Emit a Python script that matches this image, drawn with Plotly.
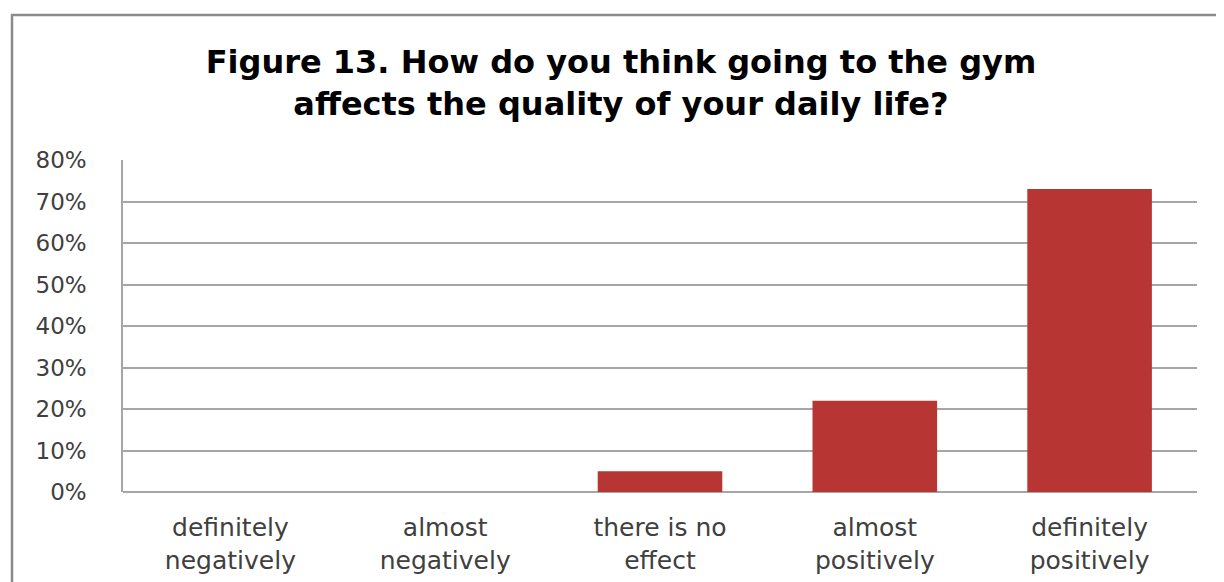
import plotly.graph_objects as go

categories = ["definitely<br>negatively", "almost<br>negatively", "there is no<br>effect",
              "almost<br>positively", "definitely<br>positively"]
values = [0.0, 0.0, 0.05, 0.22, 0.73]
tick_vals = [0, 0.1, 0.2, 0.3, 0.4, 0.5, 0.6, 0.7, 0.8]
tick_text = ["0%", "10%", "20%", "30%", "40%", "50%", "60%", "70%", "80%"]
title_text = "Figure 13. How do you think going to the gym<br>affects the quality of your daily life?"

OFF = 8  # page body margin
VW, VH = 1224, 582
W, H = VW - OFF, VH - OFF
# plot area in viewport px
PX0, PX1, PY0, PY1 = 123, 1197, 160, 492
L, R, T, B = PX0 - OFF, VW - PX1, PY0 - OFF, VH - PY1
pw, ph = PX1 - PX0, PY1 - PY0

def px_x(x):
    return (x - PX0) / pw

def px_y(y):
    return (PY1 - y) / ph

fig = go.Figure(go.Bar(
    x=categories, y=values,
    marker=dict(color="#B73533", line=dict(width=0)),
    hoverinfo="skip",
))

fig.update_layout(
    width=W, height=H,
    margin=dict(l=L, r=R, t=T, b=B, autoexpand=False),
    paper_bgcolor="white", plot_bgcolor="white",
    bargap=0.42,
    showlegend=False,
    title=dict(text="<b>" + title_text + "</b>", x=(621 - OFF) / W, xanchor="center",
               y=1 - (73 - OFF) / H, yanchor="middle",
               font=dict(family="DejaVu Sans", size=32, color="#000000")),
    font=dict(family="DejaVu Sans", color="#404040"),
    xaxis=dict(showgrid=False, showline=False, ticks="", ticklabelstandoff=18,
               tickfont=dict(size=25, color="#404040"), fixedrange=True),
    yaxis=dict(range=[0, 0.8], tickvals=tick_vals, ticktext=tick_text,
               showgrid=True, gridcolor="#A6A6A6", gridwidth=1.5,
               zeroline=True, zerolinecolor="#A6A6A6", zerolinewidth=1.5,
               showline=True, linecolor="#A6A6A6", linewidth=1.5,
               ticks="", ticklabelstandoff=30,
               tickfont=dict(size=23, color="#404040"), fixedrange=True),
    shapes=[dict(type="rect", xref="paper", yref="paper",
                 x0=px_x(12), x1=px_x(1240), y0=px_y(600), y1=px_y(15),
                 line=dict(color="#8C8C8C", width=2.5), fillcolor="rgba(0,0,0,0)",
                 layer="above")],
)

fig.write_html("out.html")
